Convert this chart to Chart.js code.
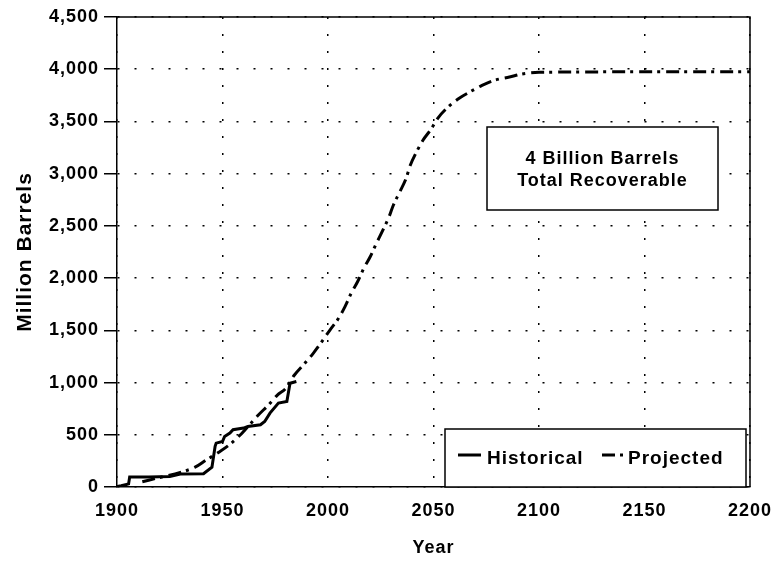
<!DOCTYPE html>
<html lang="en">
<head>
<meta charset="UTF-8">
<title>Cumulative Production - 4 Billion Barrels</title>
<script src="https://cdn.jsdelivr.net/npm/chart.js"></script>
<style>
  html, body { margin: 0; padding: 0; background: #fff; }
  #wrap { width: 772px; height: 563px; }
</style>
</head>
<body>
<div id="wrap"><canvas id="oilChart" width="772" height="563"></canvas></div>
<script>
  // historical cumulative production (million barrels)
  const histYears  = [1900, 1902, 1904, 1905.5, 1906, 1915, 1925, 1930, 1941, 1945, 1946.5, 1947, 1950, 1951, 1953.5, 1955, 1960, 1962, 1968, 1970, 1972.5, 1976.5, 1980.5, 1982, 1985];
  const histValues = [5, 12, 22, 30, 95, 95, 100, 124, 127, 190, 390, 420, 436, 484, 516, 548, 564, 580, 596, 627, 707, 803, 818, 994, 1010];

  // projected curve
  const projYears  = [1912, 1920, 1930, 1937, 1942, 1948, 1953, 1959, 1963, 1967, 1972, 1976, 1980, 1984, 1989, 1993, 1997, 2001, 2005, 2008, 2011, 2014, 2017, 2020, 2023, 2026, 2029, 2031, 2034, 2037, 2039, 2042, 2045, 2049, 2052, 2057, 2062, 2067, 2073, 2079, 2086, 2092, 2100, 2150, 2200];
  const projValues = [50, 90, 140, 190, 255, 330, 400, 510, 600, 690, 790, 880, 945, 1070, 1185, 1280, 1390, 1505, 1615, 1725, 1855, 1965, 2095, 2205, 2335, 2460, 2590, 2700, 2825, 2955, 3080, 3210, 3320, 3430, 3530, 3640, 3720, 3780, 3845, 3895, 3925, 3955, 3970, 3975, 3975];

  const yearTicks   = [1900, 1950, 2000, 2050, 2100, 2150, 2200];
  const barrelTicks = [0, 500, 1000, 1500, 2000, 2500, 3000, 3500, 4000, 4500];
  const noteLines   = ['4 Billion Barrels', 'Total Recoverable'];
  const seriesNames = ['Historical', 'Projected'];

  const FONT = "'Liberation Sans', Arial, sans-serif";
  const projDash = [13, 5, 3, 6];

  // the old typeset look: a bit of extra letter spacing on every label
  const spacing = {
    id: 'spacing',
    beforeLayout(chart) { chart.ctx.letterSpacing = '1px'; },
    beforeDraw(chart) { chart.ctx.letterSpacing = '1px'; }
  };

  // top + right border of the plot box
  const frame = {
    id: 'frame',
    afterDraw(chart) {
      const { ctx, chartArea: a } = chart;
      ctx.save();
      ctx.strokeStyle = '#000';
      ctx.lineWidth = 1.5;
      ctx.beginPath();
      ctx.moveTo(a.left, a.top);
      ctx.lineTo(a.right, a.top);
      ctx.lineTo(a.right, a.bottom);
      ctx.stroke();
      ctx.restore();
    }
  };

  // text box + legend box inside the plot
  const boxes = {
    id: 'boxes',
    afterDatasetsDraw(chart) {
      const { ctx, chartArea: a } = chart;
      ctx.save();
      ctx.lineWidth = 1.5;
      ctx.strokeStyle = '#000';

      // note box
      const nx = a.left + 370, ny = a.top + 110, nw = 231, nh = 83;
      ctx.fillStyle = '#fff';
      ctx.fillRect(nx, ny, nw, nh);
      ctx.strokeRect(nx, ny, nw, nh);
      ctx.fillStyle = '#000';
      ctx.font = 'bold 18px ' + FONT;
      ctx.textAlign = 'center';
      ctx.textBaseline = 'middle';
      ctx.fillText(noteLines[0], nx + nw / 2, ny + 32);
      ctx.fillText(noteLines[1], nx + nw / 2, ny + 54);

      // legend box
      const lx = a.left + 328, ly = a.bottom - 58, lw = a.right - 4 - lx, lh = 58;
      ctx.fillStyle = '#fff';
      ctx.fillRect(lx, ly, lw, lh);
      ctx.strokeRect(lx, ly, lw, lh);
      const cy = ly + 28;
      ctx.lineWidth = 3;
      ctx.beginPath();
      ctx.moveTo(lx + 13, cy - 2);
      ctx.lineTo(lx + 36, cy - 2);
      ctx.stroke();
      ctx.setLineDash(projDash);
      ctx.beginPath();
      ctx.moveTo(lx + 157, cy - 2);
      ctx.lineTo(lx + 179, cy - 2);
      ctx.stroke();
      ctx.setLineDash([]);
      ctx.fillStyle = '#000';
      ctx.font = 'bold 19px ' + FONT;
      ctx.textAlign = 'left';
      ctx.fillText(seriesNames[0], lx + 42, cy + 2);
      ctx.fillText(seriesNames[1], lx + 183, cy + 2);
      ctx.restore();
    }
  };

  const ctx = document.getElementById('oilChart').getContext('2d');
  const oilChart = new Chart(ctx, {
    type: 'line',
    data: {
      datasets: [{
        label: seriesNames[0],
        data: histYears.map((y, i) => ({ x: y, y: histValues[i] })),
        borderColor: '#000',
        borderWidth: 3,
        pointRadius: 0,
        fill: false
      }, {
        label: seriesNames[1],
        data: projYears.map((y, i) => ({ x: y, y: projValues[i] })),
        borderColor: '#000',
        borderWidth: 3,
        borderDash: projDash,
        pointRadius: 0,
        cubicInterpolationMode: 'monotone',
        fill: false
      }]
    },
    options: {
      responsive: false,
      devicePixelRatio: 1,
      animation: false,
      layout: { padding: { top: 17, right: 22, left: 0, bottom: 0 } },
      plugins: {
        legend: { display: false },
        tooltip: { enabled: false }
      },
      scales: {
        x: {
          type: 'linear',
          min: 1900,
          max: 2200,
          afterBuildTicks: s => { s.ticks = yearTicks.map(v => ({ value: v })); },
          afterFit: s => { s.height = 76; s.paddingLeft = 0; s.paddingRight = 0; },
          grid: { color: '#000', lineWidth: 1.5, drawTicks: false },
          border: { color: '#000', width: 1.5, dash: [2, 15] },
          ticks: {
            color: '#000',
            padding: 13,
            maxRotation: 0,
            font: { family: FONT, size: 18, weight: 'bold' },
            callback: v => String(v)
          },
          title: {
            display: true,
            text: 'Year',
            color: '#000',
            padding: { bottom: 4 },
            font: { family: FONT, size: 18, weight: 'bold' }
          }
        },
        y: {
          min: 0,
          max: 4500,
          afterBuildTicks: s => { s.ticks = barrelTicks.map(v => ({ value: v })); },
          afterFit: s => { s.width = 117; s.paddingTop = 0; s.paddingBottom = 0; },
          grid: { color: '#000', lineWidth: 1.5, tickLength: 13, tickColor: '#000', tickWidth: 1.5, tickBorderDash: [] },
          border: { color: '#000', width: 1.5, dash: [2, 15] },
          ticks: {
            color: '#000',
            padding: 5,
            font: { family: FONT, size: 18, weight: 'bold' },
            callback: v => v.toLocaleString('en-US')
          },
          title: {
            display: true,
            text: 'Million Barrels',
            color: '#000',
            padding: { top: 13 },
            font: { family: FONT, size: 21, weight: 'bold' }
          }
        }
      }
    },
    plugins: [spacing, frame, boxes]
  });
</script>
</body>
</html>
